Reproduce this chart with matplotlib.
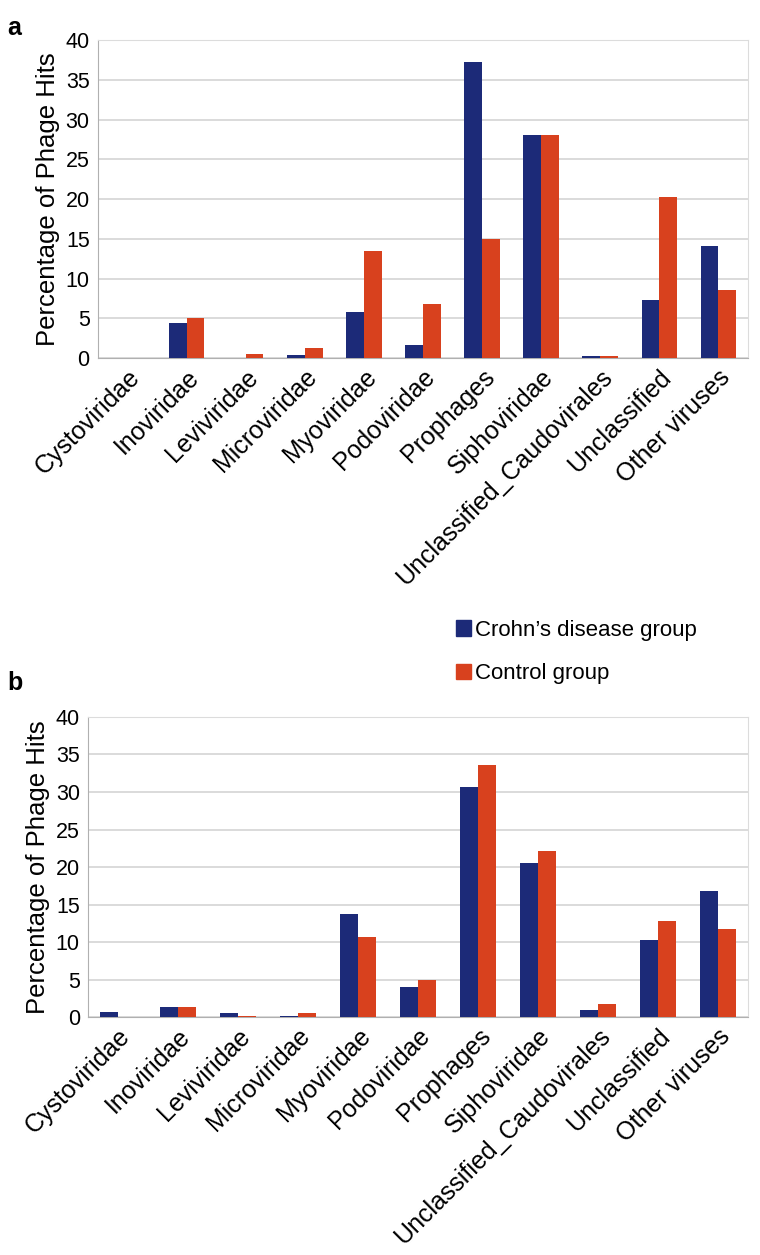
import numpy as np
import matplotlib
matplotlib.use("Agg")
from matplotlib import pyplot as plt
from matplotlib.patches import Patch

plt.rcParams['font.family'] = ['Liberation Sans', 'DejaVu Sans']

categories = ['Cystoviridae', 'Inoviridae', 'Leviviridae', 'Microviridae', 'Myoviridae',
              'Podoviridae', 'Prophages', 'Siphoviridae', 'Unclassified_Caudovirales',
              'Unclassified', 'Other viruses']

# panel a
crohn_a = [0, 4.4, 0, 0.4, 5.8, 1.7, 37.2, 28.0, 0.3, 7.3, 14.1]
control_a = [0, 5.1, 0.5, 1.3, 13.5, 6.8, 15.0, 28.0, 0.3, 20.2, 8.5]

# panel b
crohn_b = [0.7, 1.3, 0.5, 0.2, 13.8, 4.0, 30.6, 20.6, 1.0, 10.3, 16.8]
control_b = [0, 1.3, 0.2, 0.6, 10.7, 4.9, 33.6, 22.1, 1.7, 12.8, 11.7]

yticks = [0, 5, 10, 15, 20, 25, 30, 35, 40]

navy = '#1c2a78'
red = '#d8411e'

fig = plt.figure(figsize=(7.6, 12.55), dpi=100)
ax_a = fig.add_axes([0.129, 0.7147, 0.855, 0.2534])
ax_b = fig.add_axes([0.116, 0.1896, 0.868, 0.2391])

x = np.arange(len(categories))
w = 0.3

for ax, c1, c2 in [(ax_a, crohn_a, control_a), (ax_b, crohn_b, control_b)]:
    ax.bar(x - w / 2, c1, w, color=navy, zorder=3)
    ax.bar(x + w / 2, c2, w, color=red, zorder=3)
    ax.set_xlim(-0.5, len(categories) - 0.5)
    ax.set_ylim(0, 40)
    ax.set_yticks(yticks)
    ax.tick_params(axis='y', labelsize=15.5, length=0, pad=6)
    ax.tick_params(axis='x', length=0, pad=5)
    ax.set_xticks(x)
    ax.set_xticklabels(categories, rotation=45, ha='right', rotation_mode='anchor', fontsize=18)
    ax.grid(axis='y', color='#d4d4d4', lw=1.2, zorder=0)
    for s in ['top', 'right']:
        ax.spines[s].set_color('#dcdcdc')
    ax.spines['left'].set_color('#b0b0b0')
    ax.spines['bottom'].set_color('#b0b0b0')
    ax.set_ylabel('Percentage of Phage Hits', fontsize=18.5, labelpad=4)

fig.text(0.010, 0.978, 'a', fontsize=18, fontweight='bold', va='center')
fig.text(0.010, 0.456, 'b', fontsize=18, fontweight='bold', va='center')

handles = [Patch(color=navy, label='Crohn\u2019s disease group'),
           Patch(color=red, label='Control group')]
fig.legend(handles=handles, loc='upper left', bbox_to_anchor=(0.574, 0.522),
           frameon=False, fontsize=16, handlelength=0.65, handleheight=0.7,
           handletextpad=0.2, labelspacing=1.0)

fig.savefig('out.png', dpi=100)
